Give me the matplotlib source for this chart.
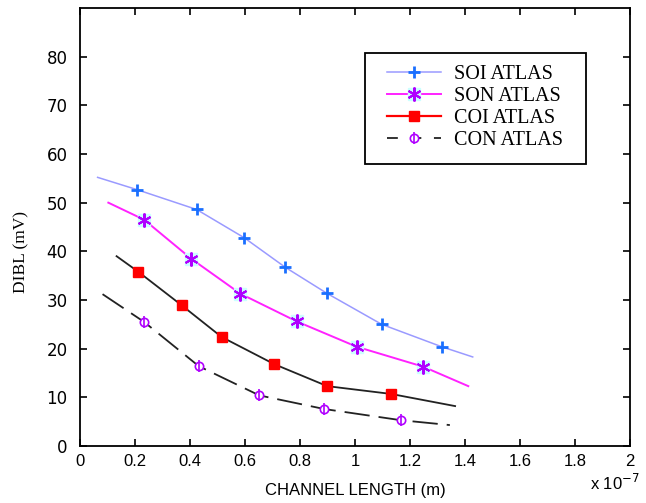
import matplotlib
matplotlib.use("Agg")
import matplotlib.pyplot as plt
from matplotlib.lines import Line2D
from matplotlib.patches import Rectangle

# channel length in units of 1e-7 m, DIBL in mV
soi_x = [0.206, 0.424, 0.597, 0.747, 0.897, 1.097, 1.315]
soi_y = [52.7, 48.6, 42.8, 36.7, 31.4, 25.0, 20.4]
soi_line_x = [0.064, 0.206, 0.424, 0.597, 0.747, 0.897, 1.097, 1.315, 1.428]
soi_line_y = [55.2, 52.7, 48.6, 42.8, 36.7, 31.4, 25.0, 20.4, 18.3]

son_x = [0.233, 0.404, 0.583, 0.788, 1.006, 1.248]
son_y = [46.5, 38.5, 31.3, 25.6, 20.4, 16.3]
son_line_x = [0.103, 0.233, 0.404, 0.583, 0.788, 1.006, 1.248, 1.412]
son_line_y = [50.0, 46.5, 38.5, 31.3, 25.6, 20.4, 16.3, 12.3]

coi_x = [0.212, 0.370, 0.515, 0.707, 0.899, 1.131]
coi_y = [35.8, 28.9, 22.4, 16.8, 12.3, 10.7]
coi_line_x = [0.133, 0.212, 0.370, 0.515, 0.707, 0.899, 1.131, 1.364]
coi_line_y = [39.0, 35.8, 28.9, 22.4, 16.8, 12.3, 10.7, 8.2]

con_x = [0.233, 0.432, 0.652, 0.888, 1.167]
con_y = [25.5, 16.4, 10.4, 7.6, 5.3]
con_line_x = [0.082, 0.233, 0.432, 0.652, 0.888, 1.167, 1.345]
con_line_y = [31.2, 25.5, 16.4, 10.4, 7.6, 5.3, 4.3]

x_ticks = [0, 0.2, 0.4, 0.6, 0.8, 1.0, 1.2, 1.4, 1.6, 1.8, 2.0]
x_labels = ["0", "0.2", "0.4", "0.6", "0.8", "1", "1.2", "1.4", "1.6", "1.8", "2"]
y_ticks = [0, 10, 20, 30, 40, 50, 60, 70, 80]

SOI_LINE = "#9a9aff"
SOI_MARK = "#1a6fff"
SON_LINE = "#ff22ff"
SON_MARK = "#b000ff"
SON_BG = "#ccffff"
COI_MARK = "#ff0000"
CON_MARK = "#b000ff"
ASTER = (6, 2, 0)

fig = plt.figure(figsize=(6.46, 5.03), dpi=100)
ax = fig.add_axes([80 / 646, 1 - 446 / 503, 550 / 646, 438 / 503])

# SOI
ax.plot(soi_line_x, soi_line_y, color=SOI_LINE, lw=1.1, zorder=2)
ax.plot(soi_x, soi_y, ls="none", marker="+", ms=8, mew=2, color=SOI_MARK, zorder=4)

# SON
ax.plot(son_line_x, son_line_y, color=SON_LINE, lw=1.4, zorder=2)
ax.plot(son_x, son_y, ls="none", marker="s", ms=9, color=SON_BG, mec=SON_BG, zorder=3)
ax.plot(son_x, son_y, ls="none", marker=ASTER, ms=10, mew=1.5, color=SON_MARK, zorder=4)

# COI
ax.plot(coi_line_x, coi_line_y, color="#222222", lw=1.3, zorder=2)
ax.plot(coi_x, coi_y, ls="none", marker="s", ms=7, color=COI_MARK, zorder=4)

# CON
ax.plot(con_line_x, con_line_y, color="#222222", lw=1.3, dashes=(14, 5), zorder=2)
ax.plot(con_x, con_y, ls="none", marker="o", ms=6, mfc="white", mec=CON_MARK, mew=1.2, zorder=4)
ax.plot(con_x, con_y, ls="none", marker="|", ms=9, mew=1.2, color=CON_MARK, zorder=5)

ax.set_xlim(0, 2)
ax.set_ylim(0, 90)
ax.set_xticks(x_ticks)
ax.set_xticklabels(x_labels, family="Liberation Sans", fontsize=12)
ax.set_yticks(y_ticks)
ax.set_yticklabels([str(v) for v in y_ticks], family="DejaVu Sans", fontsize=12)
ax.tick_params(direction="in", top=True, right=True, length=5, width=1.2)
ax.tick_params(axis="x", pad=6)
ax.tick_params(axis="y", pad=9)
for s in ax.spines.values():
    s.set_linewidth(1.3)

ax.set_xlabel("CHANNEL LENGTH (m)", family="Liberation Sans", fontsize=12, labelpad=10)
ax.set_ylabel("DIBL (mV)", family="Liberation Serif", fontsize=12.5)
ax.yaxis.set_label_coords((29 - 80) / 550, (446 - 252) / 438)
fig.text(590 / 646, 1 - 490 / 503, "x 10$^{-7}$", family="Liberation Sans", fontsize=12)

# legend
h_soi = (Line2D([], [], color=SOI_LINE, lw=1.1),
         Line2D([], [], ls="none", marker="+", ms=8, mew=2, color=SOI_MARK))
h_son = (Line2D([], [], color=SON_LINE, lw=1.4),
         Line2D([], [], ls="none", marker="s", ms=9, color=SON_BG, mec=SON_BG),
         Line2D([], [], ls="none", marker=ASTER, ms=10, mew=1.5, color=SON_MARK))
h_coi = (Line2D([], [], color=COI_MARK, lw=1.6),
         Line2D([], [], ls="none", marker="s", ms=7, color=COI_MARK))
h_con = (Line2D([], [], color="#222222", lw=1.3, dashes=(6, 7)),
         Line2D([], [], ls="none", marker="o", ms=6, mfc="white", mec=CON_MARK, mew=1.2),
         Line2D([], [], ls="none", marker="|", ms=9, mew=1.2, color=CON_MARK))
leg = ax.legend([h_soi, h_son, h_coi, h_con],
                ["SOI ATLAS", "SON ATLAS", "COI ATLAS", "CON ATLAS"],
                loc="upper left", bbox_to_anchor=((387 - 80) / 550, (446 - 65) / 438),
                prop={"family": "Liberation Serif", "size": 14.5},
                frameon=False, borderpad=0, handlelength=2.7,
                labelspacing=0.15, handletextpad=0.65, borderaxespad=0)

# legend frame
ax.add_patch(Rectangle(((365 - 80) / 550, (446 - 164) / 438), 221 / 550, 111 / 438,
                       transform=ax.transAxes, fill=False, edgecolor="black",
                       lw=1.3, zorder=6))

fig.savefig("out.png", dpi=100)
